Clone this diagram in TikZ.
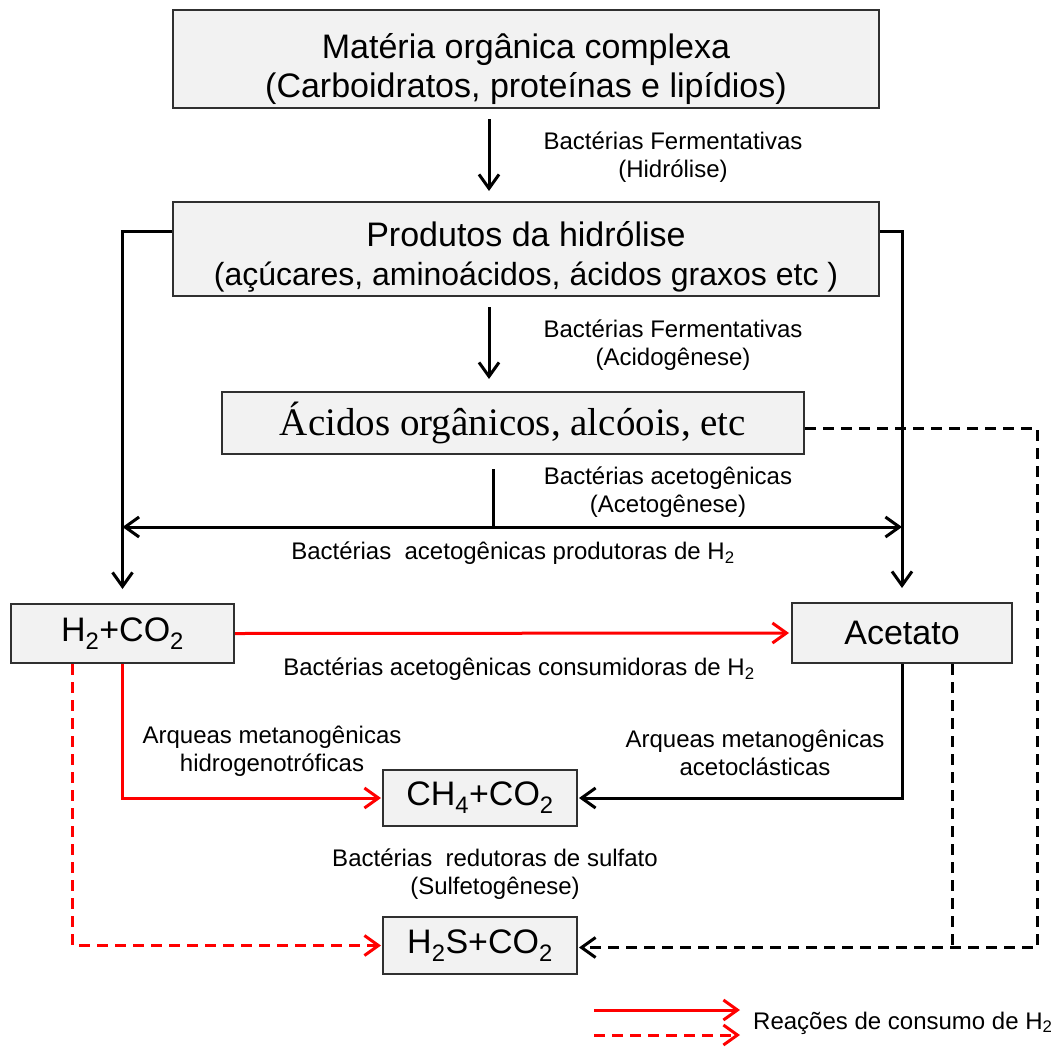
\documentclass[tikz,border=0pt]{standalone}
\usepackage{fontspec}
\setmainfont{Liberation Sans}
\newfontfamily\timesfont{Liberation Serif}
\usetikzlibrary{arrows.meta}
\definecolor{boxgray}{HTML}{F2F2F2}
\definecolor{boxline}{HTML}{303030}
\begin{document}
\begin{tikzpicture}[
  x=1pt, y=-1pt,
  BoxStyle/.style = {draw=boxline, line width=2pt, fill=boxgray, align=center,
    inner sep=0pt, font=\fontsize{34}{39}\selectfont},
  LabelStyle/.style = {align=center, inner sep=0pt, font=\fontsize{24}{28}\selectfont}
  ]
  \useasboundingbox (0,0) rectangle (1056,1046);

  \node[BoxStyle, minimum width=706pt, minimum height=98pt] (materia) at (526,59)
    {\rule{0pt}{46pt}Matéria orgânica complexa\\(Carboidratos, proteínas e lipídios)};
  \node[BoxStyle, minimum width=706pt, minimum height=94pt] (produtos) at (526,249)
    {\rule{0pt}{40pt}Produtos da hidrólise\\{\fontsize{32}{39}\selectfont(açúcares, aminoácidos, ácidos graxos etc )}};
  \node[BoxStyle, minimum width=582pt, minimum height=62pt,
    font=\timesfont\fontsize{39}{44}\selectfont] (acidos) at (513,423)
    {Ácidos orgânicos, alcóois, etc};
  \node[BoxStyle, minimum width=223pt, minimum height=59pt] (h2co2) at (122.5,633.5)
    {H\textsubscript{2}+CO\textsubscript{2}};
  \node[BoxStyle, minimum width=220pt, minimum height=60pt] (acetato) at (902,633)
    {Acetato};
  \node[BoxStyle, minimum width=194pt, minimum height=56pt] (ch4co2) at (480,798)
    {CH\textsubscript{4}+CO\textsubscript{2}};
  \node[BoxStyle, minimum width=194pt, minimum height=57pt] (h2sco2) at (480,945.5)
    {H\textsubscript{2}S+CO\textsubscript{2}};

  \node[LabelStyle] (hidrolise) at (673,157) {Bactérias Fermentativas\\(Hidrólise)};
  \node[LabelStyle] (acidogenese) at (673,345) {Bactérias Fermentativas\\(Acidogênese)};
  \node[LabelStyle] (acetogenese) at (668,492) {Bactérias acetogênicas\\(Acetogênese)};
  \node[LabelStyle] (produtoras) at (513,553) {Bactérias\ \ acetogênicas produtoras de H\textsubscript{2}};
  \node[LabelStyle] (consumidoras) at (519,669) {Bactérias acetogênicas consumidoras de H\textsubscript{2}};
  \node[LabelStyle] (hidrogeno) at (272,751) {Arqueas metanogênicas\\hidrogenotróficas};
  \node[LabelStyle] (acetoclast) at (755,753) {Arqueas metanogênicas\\acetoclásticas};
  \node[LabelStyle] (sulfeto) at (495,874) {Bactérias\ \ redutoras de sulfato\\(Sulfetogênese)};
  \node[LabelStyle, anchor=west] (legenda) at (753,1023) {Reações de consumo de H\textsubscript{2}};

  \coordinate (split) at (493,527);
  \coordinate (legA) at (594,1010);
  \coordinate (legB) at (740,1010);
  \coordinate (legC) at (594,1035);
  \coordinate (legD) at (740,1035);

  \tikzset{EdgeBlack/.style = {black, line width=3pt, -{Straight Barb[length=14pt,width=20pt]}}}
  \tikzset{EdgeRed/.style = {red, line width=3pt, -{Straight Barb[length=14pt,width=20pt]}}}
  \tikzset{DashStyle/.style = {dash pattern=on 11pt off 7pt}}

  \draw[EdgeBlack] ([xshift=-37pt,yshift=-10pt]materia.south) -- ([xshift=-37pt,yshift=10pt]produtos.north);
  \draw[EdgeBlack] ([xshift=-37pt,yshift=-10pt]produtos.south) -- ([xshift=-24pt,yshift=12pt]acidos.north);
  \draw[black, line width=3pt] ([xshift=-20pt,yshift=-14pt]acidos.south) -- (split);
  \draw[EdgeBlack, {Straight Barb[length=14pt,width=20pt]}-{Straight Barb[length=14pt,width=20pt]}]
    (h2co2.north |- split) -- (acetato.north |- split);
  \draw[EdgeBlack] ([yshift=18pt]produtos.west) -| ([yshift=14pt]h2co2.north);
  \draw[EdgeBlack] ([yshift=18pt]produtos.east) -| ([yshift=14pt]acetato.north);

  \draw[EdgeRed] (h2co2.east) -- ([xshift=-2pt]acetato.west);
  \draw[EdgeRed] (h2co2.south) |- ([xshift=-1pt]ch4co2.west);
  \draw[EdgeBlack] (acetato.south) |- ([xshift=1pt]ch4co2.east);
  \draw[EdgeRed, DashStyle] ([xshift=-50pt]h2co2.south) |- ([xshift=-1pt]h2sco2.west);
  \draw[EdgeBlack, DashStyle] ([yshift=-5pt]acidos.east) -- ++(232pt,0pt) |- ([xshift=1pt,yshift=-2pt]h2sco2.east);
  \draw[black, line width=3pt, DashStyle] ([xshift=50pt]acetato.south) -- ([xshift=50pt,yshift=-2pt]acetato.south |- h2sco2.east);

  \draw[EdgeRed] (legA) -- (legB);
  \draw[EdgeRed, DashStyle] (legC) -- (legD);
\end{tikzpicture}
\end{document}
